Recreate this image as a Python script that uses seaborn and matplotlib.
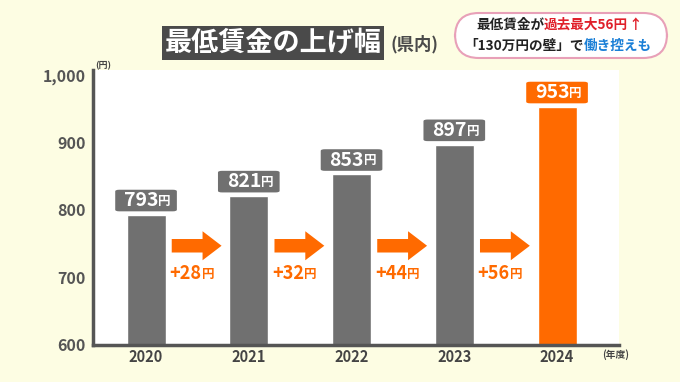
import matplotlib
matplotlib.use("Agg")
import matplotlib.pyplot as plt
import pandas as pd
import seaborn as sns
from matplotlib.patches import FancyBboxPatch, FancyArrow
from matplotlib.text import Annotation

# data
years = ["2020", "2021", "2022", "2023", "2024"]
wages = [793, 821, 853, 897, 953]
increases = [28, 32, 44, 56]
bar_colors = ["#707070", "#707070", "#707070", "#707070", "#ff6a00"]

BG = "#fdfde3"
ORANGE = "#ff6a00"
DARK = "#4a4a4a"

sns.set_style("white")
plt.rcParams["font.family"] = ["Noto Sans CJK JP", "DejaVu Sans"]
plt.rcParams["font.weight"] = "bold"

df = pd.DataFrame({"year": years, "wage": wages})

fig = plt.figure(figsize=(6.8, 3.82), dpi=100, facecolor=BG)
ax = fig.add_axes([0.1368, 0.0969, 0.7735, 0.7199])
ax.set_facecolor("white")

sns.barplot(data=df, x="year", y="wage", hue="year", palette=bar_colors,
            width=0.38, legend=False, ax=ax, saturation=1)

ax.set_ylim(600, 1007.4)
ax.set_xlim(-0.516, 4.603)
ax.set_yticks([600, 700, 800, 900, 1000])
ax.set_yticklabels(["600", "700", "800", "900", "1,000"])
ax.set_xlabel("")
ax.set_ylabel("")
ax.tick_params(axis="y", length=0, pad=5, labelsize=11.5, labelcolor="#555555")
ax.tick_params(axis="x", length=0, pad=3, labelsize=10.5, labelcolor="#444444")
for lab in ax.get_xticklabels() + ax.get_yticklabels():
    lab.set_fontweight("bold")

for s in ["top", "right"]:
    ax.spines[s].set_visible(False)
for s in ["left", "bottom"]:
    ax.spines[s].set_color("#555555")
    ax.spines[s].set_linewidth(2.5)


def yen_suffix(prev, color, size):
    # small "円" glued to the right of a number
    ann = Annotation("円", xy=(1, 0.12), xycoords=prev, ha="left", va="bottom",
                     color=color, fontsize=size, fontweight="bold")
    ax.add_artist(ann)


# value labels in rounded boxes
for i, v in enumerate(wages):
    ax.add_patch(FancyBboxPatch((i - 0.30, v + 5), 0.60, 32,
                                boxstyle="round,pad=0,rounding_size=0.04",
                                mutation_aspect=60,
                                facecolor=bar_colors[i], edgecolor="none"))
    t = ax.text(i + 0.12, v + 21, str(v), ha="right", va="center",
                color="white", fontsize=14, fontweight="bold")
    yen_suffix(t, "white", 9)

# arrows and increase labels
for i, d in enumerate(increases):
    ax.add_patch(FancyArrow(i + 0.25, 747, 0.485, 0, width=20, head_width=43,
                            head_length=0.185, length_includes_head=True,
                            color=ORANGE, lw=0))
    t = ax.text(i + 0.54, 706, f"+{d}", ha="right", va="center",
                color=ORANGE, fontsize=13, fontweight="bold")
    yen_suffix(t, ORANGE, 9)

# unit labels
fig.text(95 / 680, 1 - 66 / 382, "(円)", fontsize=6.5, color="#444444",
         ha="left", va="center")
fig.text(602 / 680, 1 - 355 / 382, "(年度)", fontsize=7, color="#444444",
         ha="left", va="center")

# title
fig.text(273 / 680, 1 - 43 / 382, "最低賃金の上げ幅", fontsize=19.5,
         color="white", fontweight="bold", ha="center", va="center",
         bbox=dict(boxstyle="square,pad=0.1", facecolor=DARK, edgecolor="none"))
fig.text(391 / 680, 1 - 44 / 382, "(県内)", fontsize=12.5, color=DARK,
         fontweight="bold", ha="left", va="center")

# top-right box
fig.patches.append(FancyBboxPatch((455 / 680, 1 - 58 / 382), 212 / 680, 45 / 382,
                                  boxstyle="round,pad=0,rounding_size=0.035",
                                  mutation_aspect=1.78,
                                  transform=fig.transFigure, facecolor="white",
                                  edgecolor="#e8a0b8", linewidth=1.5))


def rainbow(x, y, parts, size=9.8):
    prev = fig.text(x, y, parts[0][0], color=parts[0][1], fontsize=size,
                    fontweight="bold", ha="left", va="center")
    for txt, col in parts[1:]:
        ann = Annotation(txt, xy=(1, 0.5), xycoords=prev, va="center", ha="left",
                         color=col, fontsize=size, fontweight="bold")
        fig.add_artist(ann)
        prev = ann


rainbow(476 / 680, 1 - 25 / 382,
        [("最低賃金が", "#222222"), ("過去最大56円", "#e0202a"), ("↑", "#e0202a")])
rainbow(464 / 680, 1 - 46 / 382,
        [("「130万円の壁」で", "#222222"), ("働き控えも", "#1a7fd6")])

fig.savefig("out.png", dpi=100, facecolor=BG)
